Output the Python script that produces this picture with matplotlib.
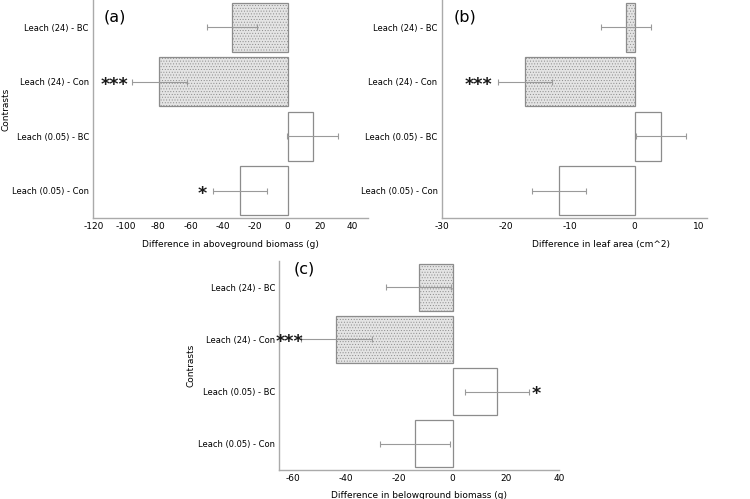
import matplotlib.pyplot as plt

# --- data ---
contrasts = ["Leach (24) - BC", "Leach (24) - Con", "Leach (0.05) - BC", "Leach (0.05) - Con"]
filled = [True, True, False, False]

above_mean = [-34.2, -79.5, 15.5, -29.4]
above_err = [15.5, 17.0, 15.6, 16.8]
above_stars = ["", "***", "", "*"]
above_star_x = [0, -107, 0, -53]

leaf_mean = [-1.4, -17.1, 4.1, -11.7]
leaf_err = [3.9, 4.2, 3.85, 4.2]
leaf_stars = ["", "***", "", ""]
leaf_star_x = [0, -24.3, 0, 0]

below_mean = [-12.7, -43.6, 16.8, -14.1]
below_err = [12.1, 13.2, 12.0, 13.0]
below_stars = ["", "***", "*", ""]
below_star_x = [0, -61, 31.5, 0]

EDGE = "#8c8c8c"
FILL = "#e4e4e4"
plt.rcParams["hatch.linewidth"] = 0.4

fig = plt.figure(figsize=(7.5, 4.99), dpi=100)


def draw_panel(rect, means, errs, stars, star_x, xlim, xticks, xlabel, tag, tag_xy,
               ylabel=True, xlab_x=0.5):
    ax = fig.add_axes(rect)
    pos = list(range(len(contrasts)))
    for i, (m, e) in enumerate(zip(means, errs)):
        if filled[i]:
            ax.barh(i, m, height=0.9, color=FILL, edgecolor=EDGE, linewidth=0.9, hatch="......")
        else:
            ax.barh(i, m, height=0.9, color="white", edgecolor=EDGE, linewidth=0.9)
        ax.errorbar(m, i, xerr=e, fmt="none", ecolor="#9a9a9a", elinewidth=0.8, capsize=2, capthick=0.8)
        if stars[i]:
            ax.text(star_x[i], i + 0.15, stars[i], ha="center", va="baseline", fontsize=12.5,
                    color="#1a1a1a", fontweight="bold")
    ax.set_ylim(-0.5, 3.5)
    ax.invert_yaxis()
    ax.set_xlim(*xlim)
    ax.set_xticks(xticks)
    ax.set_xticklabels([str(t) for t in xticks], fontsize=6.5)
    ax.set_yticks(pos)
    ax.set_yticklabels(contrasts, fontsize=6)
    ax.tick_params(length=0, pad=3)
    for s in ["top", "right"]:
        ax.spines[s].set_visible(False)
    for s in ["left", "bottom"]:
        ax.spines[s].set_color("#aaaaaa")
        ax.spines[s].set_linewidth(1.0)
    ax.set_xlabel(xlabel, fontsize=6.5)
    ax.xaxis.set_label_coords(xlab_x, -0.10)
    if ylabel:
        ax.set_ylabel("Contrasts", fontsize=6.5)
    ax.text(tag_xy[0], tag_xy[1], tag, transform=ax.transAxes, fontsize=11.5, ha="left", va="center")
    return ax


ax_a = draw_panel([0.124, 0.563, 0.367, 0.437], above_mean, above_err, above_stars, above_star_x,
                  (-120.5, 50), list(range(-120, 41, 20)),
                  "Difference in aboveground biomass (g)", "(a)", (0.04, 0.922))
ax_a.yaxis.set_label_coords(-0.30, 0.5)

ax_b = draw_panel([0.589, 0.563, 0.354, 0.437], leaf_mean, leaf_err, leaf_stars, leaf_star_x,
                  (-30, 11.3), [-30, -20, -10, 0, 10],
                  "Difference in leaf area (cm^2)", "(b)", (0.046, 0.922), ylabel=False, xlab_x=0.60)

ax_c = draw_panel([0.3724, 0.058, 0.3733, 0.419], below_mean, below_err, below_stars, below_star_x,
                  (-65, 40), [-60, -40, -20, 0, 20, 40],
                  "Difference in belowground biomass (g)", "(c)", (0.052, 0.96))
ax_c.yaxis.set_label_coords(-0.30, 0.5)

fig.savefig("out.png", dpi=100)
